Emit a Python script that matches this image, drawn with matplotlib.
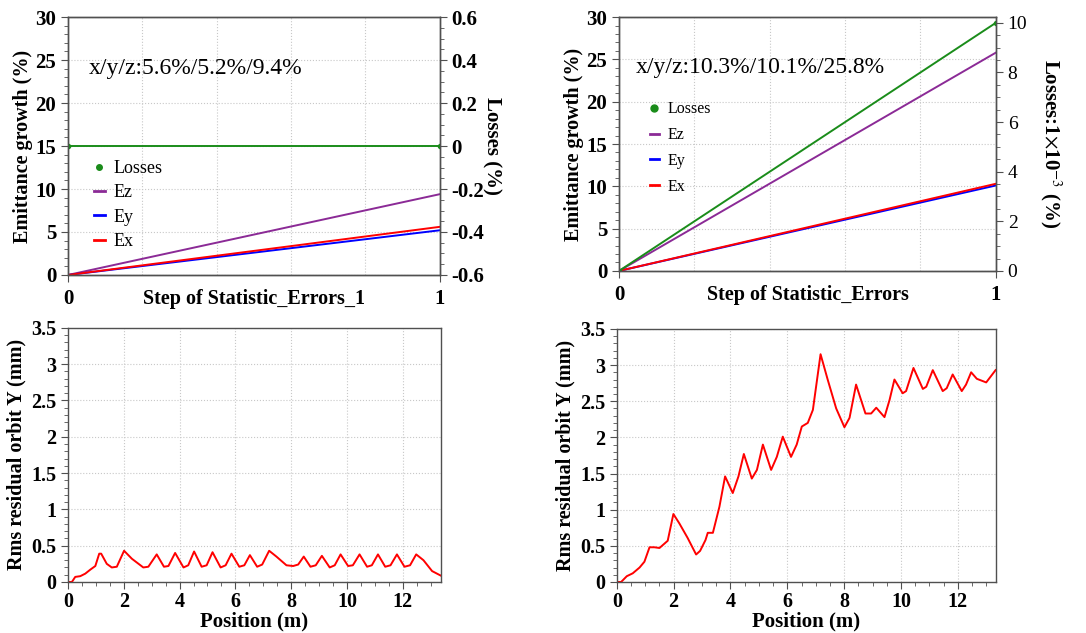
import numpy as np
import matplotlib.pyplot as plt
from matplotlib.ticker import MultipleLocator
from matplotlib.lines import Line2D

plt.rcParams['font.family'] = ['Liberation Serif', 'DejaVu Serif']
plt.rcParams['mathtext.fontset'] = 'stix'
plt.rcParams['axes.unicode_minus'] = False

# emittance growth vs error step
step = [0, 1]
ex_a = [0, 5.6]
ey_a = [0, 5.2]
ez_a = [0, 9.4]
loss_a = [0, 0]
ex_b = [0, 10.3]
ey_b = [0, 10.1]
ez_b = [0, 25.8]
loss_b = [0, 10.0]

# rms residual orbit Y along the linac
pos_a = [0, 0.14, 0.26, 0.44, 0.62, 0.8, 0.98, 1.12, 1.19, 1.39, 1.57, 1.75, 2.01, 2.29, 2.7, 2.88,
         3.18, 3.44, 3.6, 3.84, 4.14, 4.31, 4.52, 4.79, 4.97, 5.18, 5.47, 5.65, 5.86, 6.14, 6.32,
         6.52, 6.78, 6.96, 7.21, 7.47, 7.83, 8.07, 8.25, 8.45, 8.69, 8.88, 9.1, 9.38, 9.56, 9.77,
         10.04, 10.21, 10.45, 10.72, 10.89, 11.11, 11.37, 11.56, 11.79, 12.06, 12.26, 12.48,
         12.74, 13.05, 13.35]
orb_a = [0, 0, 0.07, 0.08, 0.115, 0.17, 0.22, 0.39, 0.39, 0.25, 0.2, 0.21, 0.43, 0.32, 0.2, 0.21,
         0.38, 0.21, 0.22, 0.4, 0.2, 0.23, 0.42, 0.21, 0.23, 0.41, 0.2, 0.23, 0.39, 0.21, 0.23,
         0.37, 0.21, 0.24, 0.43, 0.35, 0.23, 0.22, 0.24, 0.35, 0.21, 0.23, 0.36, 0.2, 0.23, 0.38,
         0.22, 0.23, 0.38, 0.21, 0.23, 0.38, 0.21, 0.23, 0.38, 0.21, 0.23, 0.38,
         0.3, 0.15, 0.09]
pos_b = [0, 0.15, 0.35, 0.56, 0.8, 0.97, 1.15, 1.32, 1.5, 1.79, 1.99, 2.2, 2.49, 2.79, 2.93, 3.12,
         3.2, 3.38, 3.61, 3.81, 4.08, 4.28, 4.47, 4.75, 4.93, 5.14, 5.43, 5.63, 5.84, 6.13, 6.33,
         6.51, 6.72, 6.9, 7.17, 7.42, 7.72, 8.01, 8.19, 8.42, 8.75, 8.95, 9.13, 9.42, 9.6, 9.77,
         10.06, 10.18, 10.44, 10.77, 10.89, 11.12, 11.47, 11.61, 11.82, 12.14, 12.29, 12.47,
         12.67, 13.0, 13.33]
orb_b = [0, 0, 0.08, 0.12, 0.2, 0.28, 0.48, 0.48, 0.47, 0.57, 0.94, 0.81, 0.61, 0.38, 0.43, 0.58,
         0.68, 0.68, 1.04, 1.46, 1.23, 1.46, 1.77, 1.43, 1.55, 1.9, 1.55, 1.73, 2.01, 1.73, 1.9,
         2.15, 2.2, 2.38, 3.15, 2.8, 2.4, 2.14, 2.27, 2.73, 2.33, 2.33, 2.41, 2.28, 2.52, 2.8,
         2.61, 2.64, 2.96, 2.67, 2.7, 2.93, 2.64, 2.68, 2.87, 2.64, 2.73, 2.9,
         2.81, 2.76, 2.93]

green = '#1a8c1a'
purple = '#8b2a96'
frame = '#505050'
gridc = '#c8c8c8'

fmt = plt.FuncFormatter(lambda v, p: '%g' % round(v, 6))


def dress(ax):
    for s in ax.spines.values():
        s.set_color(frame)
        s.set_linewidth(1.0)
    ax.tick_params(which='major', length=5, color=frame, direction='out')
    ax.tick_params(which='minor', length=3, color=frame, direction='out')


def top_panel(rect, ex, ey, ez, loss, label, note, note_x, rlim, rstep, rlabel, rbold, rpad,
              leg_xy, leg_fs, leg_ms, leg_sp):
    ax = fig.add_axes(rect)
    ax.plot(step, ez, color=purple, lw=1.4)
    ax.plot(step, ey, color='blue', lw=1.4)
    ax.plot(step, ex, color='red', lw=1.4)
    ax.set_xlim(0, 1)
    ax.set_ylim(0, 30)
    ax.set_xticks([0, 1])
    ax.xaxis.set_minor_locator(MultipleLocator(0.2))
    ax.yaxis.set_major_locator(MultipleLocator(5))
    ax.yaxis.set_minor_locator(MultipleLocator(1))
    ax.grid(which='minor', axis='x', color=gridc, ls=':', lw=0.8)
    ax.grid(which='major', axis='y', color=gridc, ls=':', lw=0.8)
    dress(ax)
    ax.tick_params(axis='x', which='minor', length=0)
    ax.tick_params(axis='x', pad=5)
    for t in ax.get_xticklabels() + ax.get_yticklabels():
        t.set_fontweight('bold')
        t.set_fontsize(15)
    ax.set_ylabel('Emittance growth (%)', fontsize=14.5, fontweight='bold', labelpad=2)
    ax.text(0.5, -0.095, label, transform=ax.transAxes, ha='center', va='center',
            fontsize=14.5, fontweight='bold')
    ax.text(note_x, 0.80, note, transform=ax.transAxes, fontsize=17, va='center')

    ax2 = ax.twinx()
    ax2.plot(step, loss, color=green, lw=1.4, marker='o', ms=3)
    ax2.set_ylim(*rlim)
    ax2.yaxis.set_major_locator(MultipleLocator(rstep))
    ax2.yaxis.set_minor_locator(MultipleLocator(rstep / 4))
    ax2.yaxis.set_major_formatter(fmt)
    dress(ax2)
    for t in ax2.get_yticklabels():
        t.set_fontsize(15 if rbold else 14)
        t.set_fontweight('bold' if rbold else 'normal')
    ax2.set_ylabel(rlabel, rotation=270, fontsize=15, fontweight='bold', labelpad=rpad)

    handles = [Line2D([], [], color=green, marker='o', ls='none', ms=leg_ms),
               Line2D([], [], color=purple, lw=2),
               Line2D([], [], color='blue', lw=2),
               Line2D([], [], color='red', lw=2)]
    ax2.legend(handles, ['Losses', 'Ez', 'Ey', 'Ex'], loc='upper left', bbox_to_anchor=leg_xy,
               frameon=False, fontsize=leg_fs, handlelength=0.6, handletextpad=0.5,
               borderpad=0, labelspacing=leg_sp)
    return ax


def bottom_panel(rect, pos, orb, xmax):
    ax = fig.add_axes(rect)
    ax.plot(pos, orb, color='red', lw=1.4)
    ax.set_xlim(0, xmax)
    ax.set_ylim(0, 3.5)
    ax.xaxis.set_major_locator(MultipleLocator(2))
    ax.xaxis.set_minor_locator(MultipleLocator(0.5))
    ax.yaxis.set_major_locator(MultipleLocator(0.5))
    ax.yaxis.set_minor_locator(MultipleLocator(0.1))
    ax.yaxis.set_major_formatter(fmt)
    ax.grid(which='major', color=gridc, ls=':', lw=0.8)
    dress(ax)
    ax.tick_params(axis='x', pad=2)
    for t in ax.get_xticklabels() + ax.get_yticklabels():
        t.set_fontweight('bold')
        t.set_fontsize(14.5)
    ax.set_xlabel('Position (m)', fontsize=15, fontweight='bold', labelpad=0)
    ax.set_ylabel('Rms residual orbit Y (mm)', fontsize=14.5, fontweight='bold', labelpad=3)
    return ax


fig = plt.figure(figsize=(10.86, 6.33), dpi=100)

top_panel([0.0626, 0.5656, 0.3424, 0.4074], ex_a, ey_a, ez_a, loss_a,
          'Step of Statistic_Errors_1', 'x/y/z:5.6%/5.2%/9.4%', 0.057,
          (-0.6, 0.6), 0.2, 'Losses (%)', True, 12, (0.045, 0.48), 13, 4, 0.4)
top_panel([0.570, 0.572, 0.347, 0.401], ex_b, ey_b, ez_b, loss_b,
          'Step of Statistic_Errors', 'x/y/z:10.3%/10.1%/25.8%', 0.045,
          (0, 10.23), 2, 'Losses:1$\\times$10$^{-3}$ (%)', False, 26, (0.06, 0.70), 11.5, 5, 0.62)

bottom_panel([0.0626, 0.0806, 0.3435, 0.4014], pos_a, orb_a, 13.37)
bottom_panel([0.568, 0.0806, 0.349, 0.3998], pos_b, orb_b, 13.34)

fig.savefig('out.png', dpi=100)
